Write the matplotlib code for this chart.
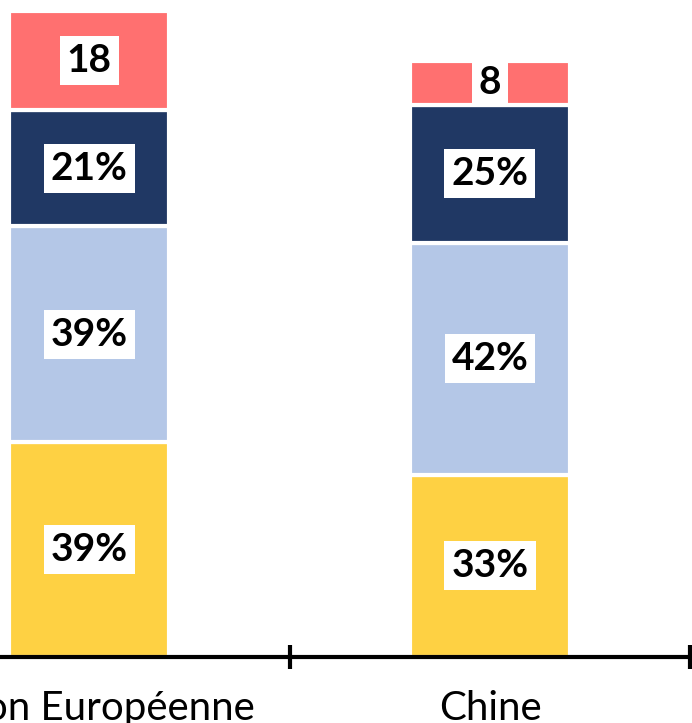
import matplotlib
matplotlib.use("Agg")
import matplotlib.pyplot as plt

# data
categories = ["Union Européenne", "Chine"]
seg_yellow = [39, 33]
seg_lightblue = [39, 42]
seg_navy = [21, 25]
seg_red = [18, 8]

series = [
    (seg_yellow, "#FED143", "{}%"),
    (seg_lightblue, "#B4C7E7", "{}%"),
    (seg_navy, "#203864", "{}%"),
    (seg_red, "#FF7070", "{}"),
]

fig = plt.figure(figsize=(6.92, 7.23), dpi=100)
ax = fig.add_axes([0, 66 / 723, 1, 657 / 723])

x = list(range(len(categories)))
bottom = [0] * len(categories)
for values, color, fmt in series:
    bars = ax.bar(x, values, width=0.4, bottom=bottom, color=color,
                  edgecolor="white", linewidth=3, zorder=2)
    for rect, v in zip(bars, values):
        cx = rect.get_x() + rect.get_width() / 2
        cy = rect.get_y() + rect.get_height() / 2
        ax.text(cx, cy, fmt.format(v), ha="center", va="center",
                fontsize=28, fontweight="bold", family="Lato", color="black",
                bbox=dict(boxstyle="square,pad=0.18", fc="white", ec="none"),
                zorder=3)
    bottom = [b + v for b, v in zip(bottom, values)]

ax.set_xlim(-0.2229, 1.5042)
ax.set_ylim(0, 119)

for side in ["left", "right", "top"]:
    ax.spines[side].set_visible(False)
ax.spines["bottom"].set_linewidth(3)
ax.spines["bottom"].set_zorder(4)
ax.set_yticks([])

ax.set_xticks([0.5, 1.5])
ax.set_xticklabels([])
ax.tick_params(axis="x", which="major", direction="inout", length=17, width=3)
ax.set_xticks(x, minor=True)
ax.set_xticklabels(categories, minor=True, fontsize=29, family="Lato")
ax.tick_params(axis="x", which="minor", length=0, pad=24)

fig.savefig("out.png", dpi=100)
